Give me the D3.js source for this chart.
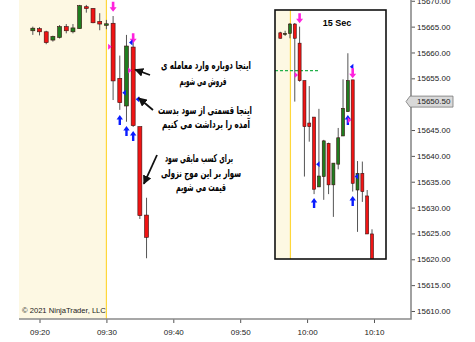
<!DOCTYPE html>
<html>
<head>
<meta charset="utf-8">
<script src="https://cdn.jsdelivr.net/npm/d3@7"></script>
<style>
  body { margin: 0; background: #fff; }
  svg { display: block; }
  .axis text { font-family: 'Liberation Sans', Arial, sans-serif; font-size: 8px; fill: #222; }
  .note { font-family: 'DejaVu Sans', sans-serif; font-size: 11px; font-weight: bold; fill: #000; }
</style>
</head>
<body>
<svg id="chart" width="475" height="342"></svg>
<script>
// 1-minute bars
const times = ['09:19', '09:20', '09:21', '09:22', '09:23', '09:24', '09:25', '09:26', '09:27',
  '09:28', '09:29', '09:30', '09:31', '09:32', '09:33', '09:34', '09:35', '09:36']
const opens = [15664.2, 15664.6, 15664.0, 15662.4, 15662.9, 15665.0, 15664.0, 15664.6, 15668.85,
  15668.5, 15666.0, 15665.25, 15665.65, 15655.0, 15649.65, 15661.05, 15645.65, 15628.55]
const highs = [15665.0, 15664.9, 15664.2, 15663.25, 15665.3, 15665.5, 15665.5, 15669.2, 15669.2,
  15668.6, 15667.6, 15666.3, 15667.05, 15659.4, 15663.4, 15662.1, 15645.65, 15631.9]
const lows = [15663.4, 15663.3, 15661.6, 15662.1, 15662.7, 15663.7, 15663.7, 15664.6, 15667.7,
  15665.65, 15664.3, 15664.5, 15650.8, 15648.9, 15646.6, 15645.6, 15627.8, 15620.2]
const closes = [15664.7, 15664.0, 15661.9, 15663.1, 15665.0, 15664.2, 15664.75, 15669.05, 15668.5,
  15665.75, 15665.5, 15665.55, 15654.5, 15650.3, 15661.25, 15645.85, 15628.45, 15624.25]

// trade markers on the minute chart
const markTimes = ['09:31', '09:34', '09:31', '09:34', '09:32', '09:33', '09:34', '09:32', '09:33', '09:34']
const markPrices = [15667.9, 15661.8, 15661.1, 15656.5, 15652.2, 15661.95, 15650.95, 15647.9, 15645.8, 15644.8]
const markKinds = ['down', 'down', 'right', 'right', 'left', 'left', 'left', 'up', 'up', 'up']

// 15 second bars in the inset
const insetOpens = [15663.8, 15663.6, 15663.7, 15665.5, 15661.8, 15654.55, 15646.35, 15647.5, 15634.0, 15636.0,
  15642.4, 15634.4, 15638.4, 15643.85, 15648.55, 15654.7, 15633.4, 15636.6, 15632.25, 15624.9]
const insetHighs = [15664.0, 15664.2, 15665.7, 15665.7, 15665.0, 15654.55, 15653.5, 15647.5, 15649.1, 15643.1,
  15642.55, 15638.6, 15645.4, 15654.8, 15659.85, 15654.7, 15639.0, 15638.9, 15633.4, 15625.8]
const insetLows = [15662.7, 15663.2, 15662.75, 15650.5, 15654.35, 15636.0, 15642.75, 15632.6, 15634.0, 15631.5,
  15632.6, 15628.2, 15637.4, 15643.85, 15648.55, 15633.1, 15625.3, 15631.1, 15624.9, 15617.5]
const insetCloses = [15662.75, 15663.7, 15665.5, 15662.75, 15654.55, 15645.65, 15645.65, 15633.55, 15636.1, 15642.9,
  15634.4, 15638.6, 15643.5, 15649.2, 15654.55, 15634.7, 15636.6, 15633.1, 15624.9, 15618.0]
const insetMarkBars = [4, 4, 7, 7, 14, 15, 14, 15, 15, 15]
const insetMarkPrices = [15665.65, 15655.65, 15638.4, 15631.85, 15657.25, 15655.0, 15647.9, 15646.9, 15636.0, 15632.25]
const insetMarkKinds = ['down', 'right', 'left', 'up', 'left', 'down', 'up', 'right', 'left', 'up']
const insetLevel = 15656.5

const yTicks = [15610, 15615, 15620, 15625, 15630, 15635, 15640, 15645, 15655, 15660, 15665, 15670]
const lastPrice = 15650.5
const notes = [
  ['اینجا دوباره وارد معامله ی', 'فروش می شویم'],
  ['اینجا قسمتی از سود بدست', 'آمده را برداشت می کنیم'],
  ['برای کسب مابقی سود', 'سوار بر این موج نزولی', 'قیمت می شویم']
]

const parse = d3.timeParse('%H:%M')
const svg = d3.select('#chart')
const plot = { left: 19, right: 411, top: 0, bottom: 319 }

const x = d3.scaleTime()
  .domain([parse('09:16').getTime() + 56e3, parse('10:15').getTime() + 32e3])
  .range([plot.left, plot.right])
const y = d3.scaleLinear().domain([15608.45, 15670.15]).range([plot.bottom, plot.top])

const red = '#f01414'
const green = '#1f7d1f'
const pink = '#ff22dd'
const blue = '#0a1cff'

// pre-open shading
svg.append('rect')
  .attr('x', plot.left).attr('y', plot.top)
  .attr('width', x(parse('09:30')) - plot.left).attr('height', plot.bottom - plot.top)
  .attr('fill', '#fdf8e3')
svg.append('line')
  .attr('x1', x(parse('09:30'))).attr('x2', x(parse('09:30')))
  .attr('y1', plot.top).attr('y2', plot.bottom)
  .attr('stroke', '#ffd73a').attr('stroke-width', 1.2)

function marker (kind, cx, cy, color) {
  let d
  if (kind === 'down') d = `M${cx},${cy} l-3.5,-4.5 h2.2 v-5.5 h2.6 v5.5 h2.2 Z`
  else if (kind === 'up') d = `M${cx},${cy} l-3.2,4.5 h2 v5.5 h2.4 v-5.5 h2 Z`
  else if (kind === 'right') d = `M${cx},${cy} l-3.5,-3 v6 Z`
  else d = `M${cx},${cy} l3.5,-3 v6 Z`
  return svg.append('path').attr('d', d).attr('fill', color)
}

function candles (g, xs, o, h, l, c, bw) {
  o.forEach((open, i) => {
    const cx = xs(i)
    g.append('line').attr('x1', cx).attr('x2', cx)
      .attr('y1', y(h[i])).attr('y2', y(l[i]))
      .attr('stroke', '#555').attr('stroke-width', 1)
    const top = y(Math.max(open, c[i]))
    g.append('rect')
      .attr('x', cx - bw / 2).attr('y', top)
      .attr('width', bw).attr('height', Math.max(1.2, y(Math.min(open, c[i])) - top))
      .attr('fill', c[i] >= open ? green : red)
      .attr('stroke', '#3a1010').attr('stroke-width', 0.6)
  })
}

const mx = i => x(parse(times[i]))
candles(svg.append('g'), mx, opens, highs, lows, closes, 4)

markKinds.forEach((k, i) => {
  const cx = x(parse(markTimes[i]))
  const cy = y(markPrices[i])
  const color = (k === 'down' || k === 'right') ? pink : blue
  const dx = k === 'right' ? -1.5 : k === 'left' ? 2.5 : 0
  marker(k, cx + dx, cy, color)
})

// axes
const yAxis = d3.axisRight(y).tickValues(yTicks).tickFormat(d3.format('.2f')).tickSize(4).tickPadding(2)
svg.append('g').attr('class', 'axis').attr('transform', `translate(${plot.right},0)`).call(yAxis)
  .call(g => g.select('.domain').remove())
  .call(g => g.selectAll('line').attr('stroke', '#555'))
const xAxis = d3.axisBottom(x).ticks(d3.timeMinute.every(10)).tickFormat(d3.timeFormat('%H:%M')).tickSize(4).tickPadding(6)
svg.append('g').attr('class', 'axis').attr('transform', `translate(0,${plot.bottom})`).call(xAxis)
  .call(g => g.select('.domain').remove())
  .call(g => g.selectAll('line').attr('stroke', '#555'))
svg.append('path')
  .attr('d', `M${plot.left},${plot.bottom} H${plot.right} V${plot.top}`)
  .attr('fill', 'none').attr('stroke', '#8a8a8a').attr('stroke-width', 1.6)

// last price tag
const ly = y(lastPrice)
svg.append('path')
  .attr('d', `M${plot.right - 5},${ly} L${plot.right - 1},${ly - 5.5} H${plot.right + 42} V${ly + 5.5} H${plot.right - 1} Z`)
  .attr('fill', '#d9d9d9').attr('stroke', '#777').attr('stroke-width', 0.8)
svg.append('text').attr('x', plot.right + 6).attr('y', ly).attr('dy', '0.35em')
  .style('font-family', 'Liberation Sans, Arial, sans-serif').style('font-size', '8px').attr('fill', '#222')
  .text(d3.format('.2f')(lastPrice))

svg.append('text')
  .attr('x', plot.left + 3).attr('y', plot.bottom - 6)
  .style('font-family', 'Liberation Sans, Arial, sans-serif').style('font-size', '7.6px').attr('fill', '#222')
  .text('© 2021 NinjaTrader, LLC')

// annotation arrows
const defs = svg.append('defs')
defs.append('marker').attr('id', 'head').attr('viewBox', '0 0 10 10')
  .attr('refX', 9).attr('refY', 5).attr('markerWidth', 5).attr('markerHeight', 5)
  .attr('orient', 'auto')
  .append('path').attr('d', 'M0,0 L10,5 L0,10 Z').attr('fill', '#111')
const arrows = [
  [x(parse('09:34')) + 2, y(15656.7), 150, 75],
  [x(parse('09:34')) + 5.5, y(15651.2), 153, 110],
  [x(parse('09:35')) + 4, y(15634.6), 157, 155]
]
arrows.forEach(a => {
  svg.append('line').attr('x1', a[2]).attr('y1', a[3]).attr('x2', a[0]).attr('y2', a[1])
    .attr('stroke', '#111').attr('stroke-width', 1.8).attr('marker-end', 'url(#head)')
})

const noteX = [[206, 203], [205, 206], [199, 201, 201]]
const noteY = [[69, 85], [114, 128], [162, 177, 191]]
const noteW = [[90, 47], [94, 88], [68, 80, 50]]
notes.forEach((lines, i) => {
  lines.forEach((t, j) => {
    svg.append('text').attr('class', 'note')
      .attr('x', noteX[i][j]).attr('y', noteY[i][j])
      .attr('text-anchor', 'middle').attr('direction', 'rtl')
      .attr('textLength', noteW[i][j]).attr('lengthAdjust', 'spacingAndGlyphs')
      .text(t)
  })
})

// 15 sec inset
const box = { x: 275, y: 10, w: 111, h: 249 }
const inset = svg.append('g')
inset.append('rect').attr('x', box.x).attr('y', box.y).attr('width', box.w).attr('height', box.h).attr('fill', '#fff')
defs.append('clipPath').attr('id', 'inset-clip')
  .append('rect').attr('x', box.x).attr('y', box.y).attr('width', box.w).attr('height', box.h)
const ix = d3.scaleLinear().domain([0, insetOpens.length - 1]).range([280.3, 372])
const body = inset.append('g').attr('clip-path', 'url(#inset-clip)')
body.append('rect').attr('x', box.x).attr('y', box.y).attr('width', ix(2.1) - box.x).attr('height', box.h).attr('fill', '#fdf8e3')
body.append('line').attr('x1', ix(2.1)).attr('x2', ix(2.1)).attr('y1', box.y).attr('y2', box.y + box.h)
  .attr('stroke', '#ffd73a').attr('stroke-width', 1.2)
body.append('line').attr('x1', box.x).attr('x2', ix(8)).attr('y1', y(insetLevel)).attr('y2', y(insetLevel))
  .attr('stroke', '#22b04a').attr('stroke-width', 1.2).attr('stroke-dasharray', '3,2')
candles(body, ix, insetOpens, insetHighs, insetLows, insetCloses, 3)
insetMarkKinds.forEach((k, i) => {
  const cx = ix(insetMarkBars[i])
  const color = (k === 'down' || k === 'right') ? pink : blue
  const dx = k === 'right' ? -1.5 : k === 'left' ? 2 : 0
  marker(k, cx + dx, y(insetMarkPrices[i]), color)
})
inset.append('rect').attr('x', box.x).attr('y', box.y).attr('width', box.w).attr('height', box.h)
  .attr('fill', 'none').attr('stroke', '#111').attr('stroke-width', 1.6)
inset.append('text').attr('x', box.x + 62).attr('y', box.y + 16).attr('text-anchor', 'middle')
  .style('font-family', 'Liberation Sans, Arial, sans-serif').style('font-size', '9px').style('font-weight', 'bold')
  .text('15 Sec')
</script>
</body>
</html>
